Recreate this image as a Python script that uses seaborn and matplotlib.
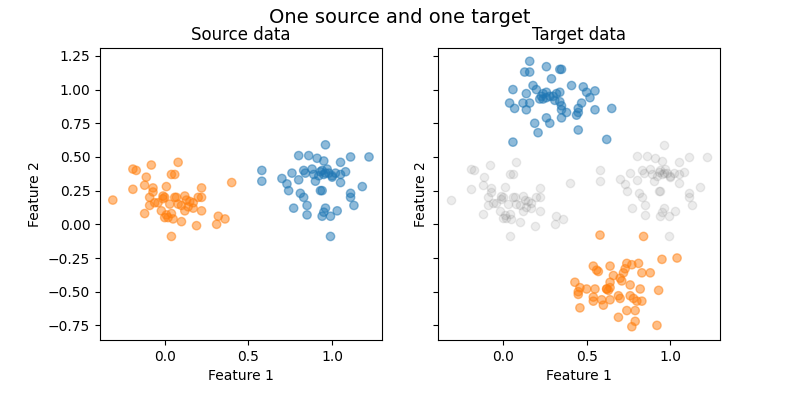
import numpy as np
import pandas as pd
import matplotlib
matplotlib.use('Agg')
import matplotlib.pyplot as plt
import seaborn as sns

# source domain, class 1 (orange) and class 0 (blue)
src1_x = [-0.31, -0.19, -0.17, -0.19, -0.08, -0.11, -0.12, -0.07, -0.07, -0.09,
          -0.09, -0.06, -0.12, 0.08, 0.04, 0.06, 0.01, -0.01, 0.00, -0.01,
          -0.04, -0.02, 0.01, 0.00, 0.02, 0.04, 0.05, 0.03, 0.06, 0.07,
          0.10, 0.04, 0.12, 0.12, 0.10, 0.13, 0.15, 0.17, 0.19, 0.20,
          0.22, 0.22, 0.22, 0.31, 0.32, 0.36, 0.40, 0.17, 0.14, 0.08]
src1_y = [0.18, 0.41, 0.40, 0.26, 0.44, 0.35, 0.29, 0.27, 0.24, 0.20,
          0.14, 0.16, 0.08, 0.46, 0.37, 0.37, 0.28, 0.21, 0.20, 0.19,
          0.16, 0.10, 0.07, 0.05, 0.05, 0.08, 0.04, 0.15, 0.20, 0.20,
          0.02, -0.09, 0.21, 0.10, 0.14, 0.18, 0.17, 0.12, -0.01, 0.20,
          0.20, 0.10, 0.27, 0.00, 0.06, 0.04, 0.31, 0.16, 0.13, 0.15]
src0_x = [0.96, 0.80, 0.86, 0.91, 0.95, 1.11, 1.22, 1.05, 0.58, 0.58,
          0.70, 0.76, 0.73, 0.80, 0.74, 0.83, 0.84, 0.88, 0.89, 0.90,
          0.93, 0.94, 0.95, 0.96, 0.97, 0.98, 1.00, 1.02, 1.05, 1.05,
          1.08, 1.18, 0.81, 0.83, 0.85, 0.77, 0.85, 0.93, 0.94, 0.96,
          0.95, 0.94, 0.99, 1.03, 1.11, 1.11, 1.13, 0.99, 0.92, 1.00]
src0_y = [0.59, 0.51, 0.51, 0.49, 0.47, 0.50, 0.50, 0.46, 0.40, 0.32,
          0.34, 0.38, 0.30, 0.33, 0.25, 0.40, 0.38, 0.41, 0.37, 0.32,
          0.39, 0.40, 0.37, 0.38, 0.41, 0.38, 0.35, 0.38, 0.31, 0.37,
          0.39, 0.28, 0.23, 0.20, 0.14, 0.12, 0.07, 0.25, 0.25, 0.12,
          0.09, 0.06, 0.06, 0.10, 0.23, 0.20, 0.14, -0.09, 0.36, 0.36]

# target domain
tgt0_x = [0.16, 0.26, 0.34, 0.35, 0.13, 0.16, 0.29, 0.06, 0.18, 0.20,
          0.14, 0.24, 0.26, 0.23, 0.24, 0.26, 0.28, 0.30, 0.32, 0.34,
          0.31, 0.22, 0.34, 0.41, 0.48, 0.50, 0.52, 0.55, 0.04, 0.07,
          0.12, 0.14, 0.16, 0.35, 0.35, 0.38, 0.44, 0.45, 0.45, 0.47,
          0.55, 0.65, 0.26, 0.28, 0.19, 0.21, 0.45, 0.06, 0.62, 0.35]
tgt0_y = [1.21, 1.17, 1.15, 1.15, 1.13, 1.13, 1.08, 1.00, 1.03, 1.00,
          0.97, 0.97, 0.98, 0.95, 0.93, 0.94, 0.95, 0.95, 0.97, 0.98,
          0.92, 0.93, 0.91, 1.03, 1.02, 0.98, 0.94, 0.99, 0.90, 0.86,
          0.90, 0.85, 0.90, 0.85, 0.79, 0.83, 0.81, 0.83, 0.86, 0.90,
          0.85, 0.86, 0.79, 0.75, 0.75, 0.68, 0.70, 0.61, 0.63, 0.88]
tgt1_x = [0.58, 0.84, 0.95, 1.04, 0.54, 0.56, 0.57, 0.64, 0.74, 0.77,
          0.81, 0.72, 0.71, 0.66, 0.83, 0.88, 0.43, 0.46, 0.45, 0.45,
          0.50, 0.55, 0.62, 0.63, 0.64, 0.64, 0.69, 0.70, 0.76, 0.82,
          0.76, 0.78, 0.80, 0.83, 0.93, 0.54, 0.54, 0.59, 0.60, 0.64,
          0.46, 0.74, 0.79, 0.69, 0.79, 0.77, 0.92, 0.62, 0.70, 0.73]
tgt1_y = [-0.08, -0.09, -0.26, -0.25, -0.31, -0.34, -0.35, -0.31, -0.29, -0.30,
          -0.29, -0.36, -0.42, -0.38, -0.36, -0.36, -0.43, -0.47, -0.50, -0.52,
          -0.48, -0.48, -0.48, -0.49, -0.47, -0.43, -0.53, -0.55, -0.45, -0.48,
          -0.53, -0.55, -0.57, -0.57, -0.49, -0.54, -0.57, -0.56, -0.60, -0.56,
          -0.62, -0.64, -0.64, -0.69, -0.72, -0.76, -0.75, -0.48, -0.40, -0.33]

src = pd.DataFrame({'x': src0_x + src1_x, 'y': src0_y + src1_y,
                    'label': [0] * len(src0_x) + [1] * len(src1_x)})
tgt = pd.DataFrame({'x': tgt0_x + tgt1_x, 'y': tgt0_y + tgt1_y,
                    'label': [0] * len(tgt0_x) + [1] * len(tgt1_x)})
pal = {0: 'C0', 1: 'C1'}
# matplotlib-like markers: edge in the face colour, 1pt wide
mk = dict(s=36, edgecolor='face', linewidth=1, legend=False)

fig, axes = plt.subplots(1, 2, figsize=(8, 4), dpi=100, sharey=True)
fig.subplots_adjust(bottom=0.15)
fig.suptitle('One source and one target', fontsize=14)

ax = axes[0]
sns.scatterplot(data=src, x='x', y='y', hue='label', palette=pal, alpha=0.5, ax=ax, **mk)
ax.set_title('Source data')
ax.set_xlabel('Feature 1')
ax.set_ylabel('Feature 2')

ax = axes[1]
sns.scatterplot(data=src, x='x', y='y', color='grey', alpha=0.15, ax=ax, **mk)
sns.scatterplot(data=tgt, x='x', y='y', hue='label', palette=pal, alpha=0.5, ax=ax, **mk)
ax.set_title('Target data')
ax.set_xlabel('Feature 1')
ax.set_ylabel('Feature 2', visible=True)
ax.tick_params(labelleft=False)

fig.savefig('out.png')
